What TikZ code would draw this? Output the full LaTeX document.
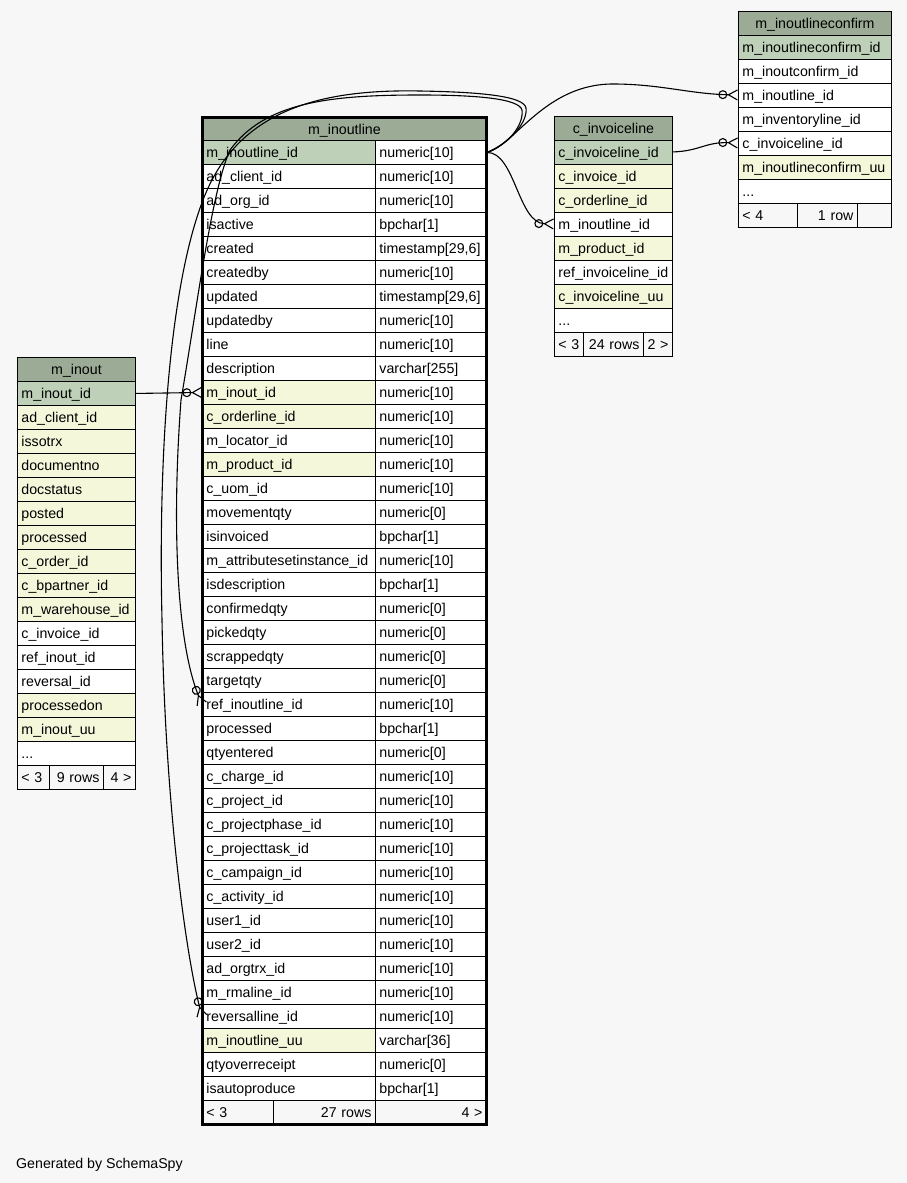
\documentclass[tikz,border=0pt]{standalone}
\usepackage{fontspec}
\setmainfont{Liberation Sans}
\usetikzlibrary{arrows.meta}
\definecolor{hdrgreen}{HTML}{9BAB96}
\definecolor{keygreen}{HTML}{BED1B8}
\definecolor{fkyellow}{HTML}{F4F7DA}
\definecolor{pagegrey}{HTML}{F7F7F7}
\newcommand{\rowdots}{...}
\tikzset{
  cell/.style={draw, fill=white, anchor=north west, minimum height=24pt, inner xsep=4pt, inner ysep=0pt,
    text height=13pt, text depth=2.5pt, align=left, line width=0.9pt, font=\fontsize{14.2}{16}\selectfont},
  hdr/.style={cell, fill=hdrgreen, align=center},
  foot/.style={cell, fill=pagegrey},
  rel/.style={line width=1.1pt, -{Circle[open,length=9pt,width=9pt]Straight Barb[reversed,length=9pt,width=10pt]}}
}
\begin{document}
\begin{tikzpicture}[x=1pt,y=-1pt]
  \useasboundingbox (0,0) rectangle (907,1183);
  \fill[pagegrey] (0,0) rectangle (907,1183);
  % m_inoutline, the big one in the middle
  \node[hdr, text width=276pt, minimum height=23pt] (mil-h) at (202,117) {m\_inoutline};
  \foreach \n/\t/\f [count=\i] in {m\_inoutline\_id/numeric[10]/keygreen, ad\_client\_id/numeric[10]/white,
      ad\_org\_id/numeric[10]/white, isactive/bpchar[1]/white, created/{timestamp[29,6]}/white,
      createdby/numeric[10]/white, updated/{timestamp[29,6]}/white, updatedby/numeric[10]/white,
      line/numeric[10]/white, description/varchar[255]/white, m\_inout\_id/numeric[10]/fkyellow,
      c\_orderline\_id/numeric[10]/fkyellow, m\_locator\_id/numeric[10]/white, m\_product\_id/numeric[10]/fkyellow,
      c\_uom\_id/numeric[10]/white, movementqty/numeric[0]/white, isinvoiced/bpchar[1]/white,
      m\_attributesetinstance\_id/numeric[10]/white, isdescription/bpchar[1]/white, confirmedqty/numeric[0]/white,
      pickedqty/numeric[0]/white, scrappedqty/numeric[0]/white, targetqty/numeric[0]/white,
      ref\_inoutline\_id/numeric[10]/white, processed/bpchar[1]/white, qtyentered/numeric[0]/white,
      c\_charge\_id/numeric[10]/white, c\_project\_id/numeric[10]/white, c\_projectphase\_id/numeric[10]/white,
      c\_projecttask\_id/numeric[10]/white, c\_campaign\_id/numeric[10]/white, c\_activity\_id/numeric[10]/white,
      user1\_id/numeric[10]/white, user2\_id/numeric[10]/white, ad\_orgtrx\_id/numeric[10]/white,
      m\_rmaline\_id/numeric[10]/white, reversalline\_id/numeric[10]/white, m\_inoutline\_uu/varchar[36]/fkyellow,
      qtyoverreceipt/numeric[0]/white, isautoproduce/bpchar[1]/white}{% name cell and type cell
    \node[cell, text width=165pt, fill=\f] (mil-\i) at (202,{140+24*(\i-1)}) {\n};
    \node[cell, text width=103pt] (milt-\i) at (375,{140+24*(\i-1)}) {\t};
  }
  \node[foot, text width=63pt] (milf-1) at (202,1100) {< 3};
  \node[foot, text width=94pt, align=right] (milf-2) at (273,1100) {27 rows};
  \node[foot, text width=103pt, align=right] (milf-3) at (375,1100) {4 >};
  \draw[line width=3pt] (mil-h.north west) rectangle (milf-3.south east);

  % m_inout on the left
  \node[hdr, text width=110pt] (mi-h) at (17,357) {m\_inout};
  \foreach \n/\f [count=\i] in {m\_inout\_id/keygreen, ad\_client\_id/fkyellow, issotrx/fkyellow,
      documentno/fkyellow, docstatus/fkyellow, posted/fkyellow, processed/fkyellow, c\_order\_id/fkyellow,
      c\_bpartner\_id/fkyellow, m\_warehouse\_id/fkyellow, c\_invoice\_id/white, ref\_inout\_id/white,
      reversal\_id/white, processedon/fkyellow, m\_inout\_uu/fkyellow, \rowdots/white}{
    \node[cell, text width=110pt, fill=\f] (mi-\i) at (17,{381+24*(\i-1)}) {\n};
  }
  \node[foot, text width=24pt] (mif-1) at (17,765) {< 3};
  \node[foot, text width=46pt, align=right] (mif-2) at (49,765) {9 rows};
  \node[foot, text width=24pt, align=right] (mif-3) at (103,765) {4 >};

  % c_invoiceline
  \node[hdr, text width=110pt] (ci-h) at (554,115.5) {c\_invoiceline};
  \foreach \n/\f [count=\i] in {c\_invoiceline\_id/keygreen, c\_invoice\_id/fkyellow, c\_orderline\_id/fkyellow,
      m\_inoutline\_id/white, m\_product\_id/fkyellow, ref\_invoiceline\_id/white, c\_invoiceline\_uu/fkyellow, \rowdots/white}{
    \node[cell, text width=110pt, fill=\f] (ci-\i) at (554,{139.5+24*(\i-1)}) {\n};
  }
  \node[foot, text width=21pt] (cif-1) at (554,331.5) {< 3};
  \node[foot, text width=52pt, align=right] (cif-2) at (583,331.5) {24 rows};
  \node[foot, text width=21pt, align=right] (cif-3) at (643,331.5) {2 >};

  % m_inoutlineconfirm
  \node[hdr, text width=145pt] (mc-h) at (738,10.5) {m\_inoutlineconfirm};
  \foreach \n/\f [count=\i] in {m\_inoutlineconfirm\_id/keygreen, m\_inoutconfirm\_id/white, m\_inoutline\_id/white,
      m\_inventoryline\_id/white, c\_invoiceline\_id/white, m\_inoutlineconfirm\_uu/fkyellow, \rowdots/white}{
    \node[cell, text width=145pt, fill=\f] (mc-\i) at (738,{34.5+24*(\i-1)}) {\n};
  }
  \node[foot, text width=51pt] (mcf-1) at (738,202.5) {< 4};
  \node[foot, text width=52pt, align=right] (mcf-2) at (797,202.5) {1 row};
  \node[foot, text width=26pt] (mcf-3) at (857,202.5) {};

  % relations
  \draw[rel] (mi-1.east) -- (mil-11.west);
  \draw[rel] (milt-1.east) .. controls (515,152) and (518,223) .. (ci-4.west);
  \draw[rel] (milt-1.east) .. controls (515,145) and (545,84) .. (613,84) .. controls (660,84) and (690,94) .. (mc-3.west);
  \draw[rel] (ci-1.east) .. controls (700,151) and (705,142) .. (mc-5.west);
  % the two self references loop over the top
  \draw[rel] (milt-1.east) .. controls (510,143) and (528,122) .. (526,108) .. controls (524,96) and (480,92) .. (420,91)
    .. controls (320,89) and (240,110) .. (205,195) .. controls (170,280) and (158,450) .. (162,620)
    .. controls (165,800) and (185,950) .. (mil-37.west);
  \draw[rel] (milt-1.east) .. controls (508,145) and (524,125) .. (522,110) .. controls (519,99) and (480,95) .. (420,95)
    .. controls (330,95) and (265,102) .. (230,150) .. controls (212,190) and (198,300) .. (181,400)
    .. controls (172,520) and (176,640) .. (mil-24.west);

  \node[anchor=base west, inner sep=0pt, font=\fontsize{14.2}{16}\selectfont] (credit) at (16,1168) {Generated by SchemaSpy};
\end{tikzpicture}
\end{document}
